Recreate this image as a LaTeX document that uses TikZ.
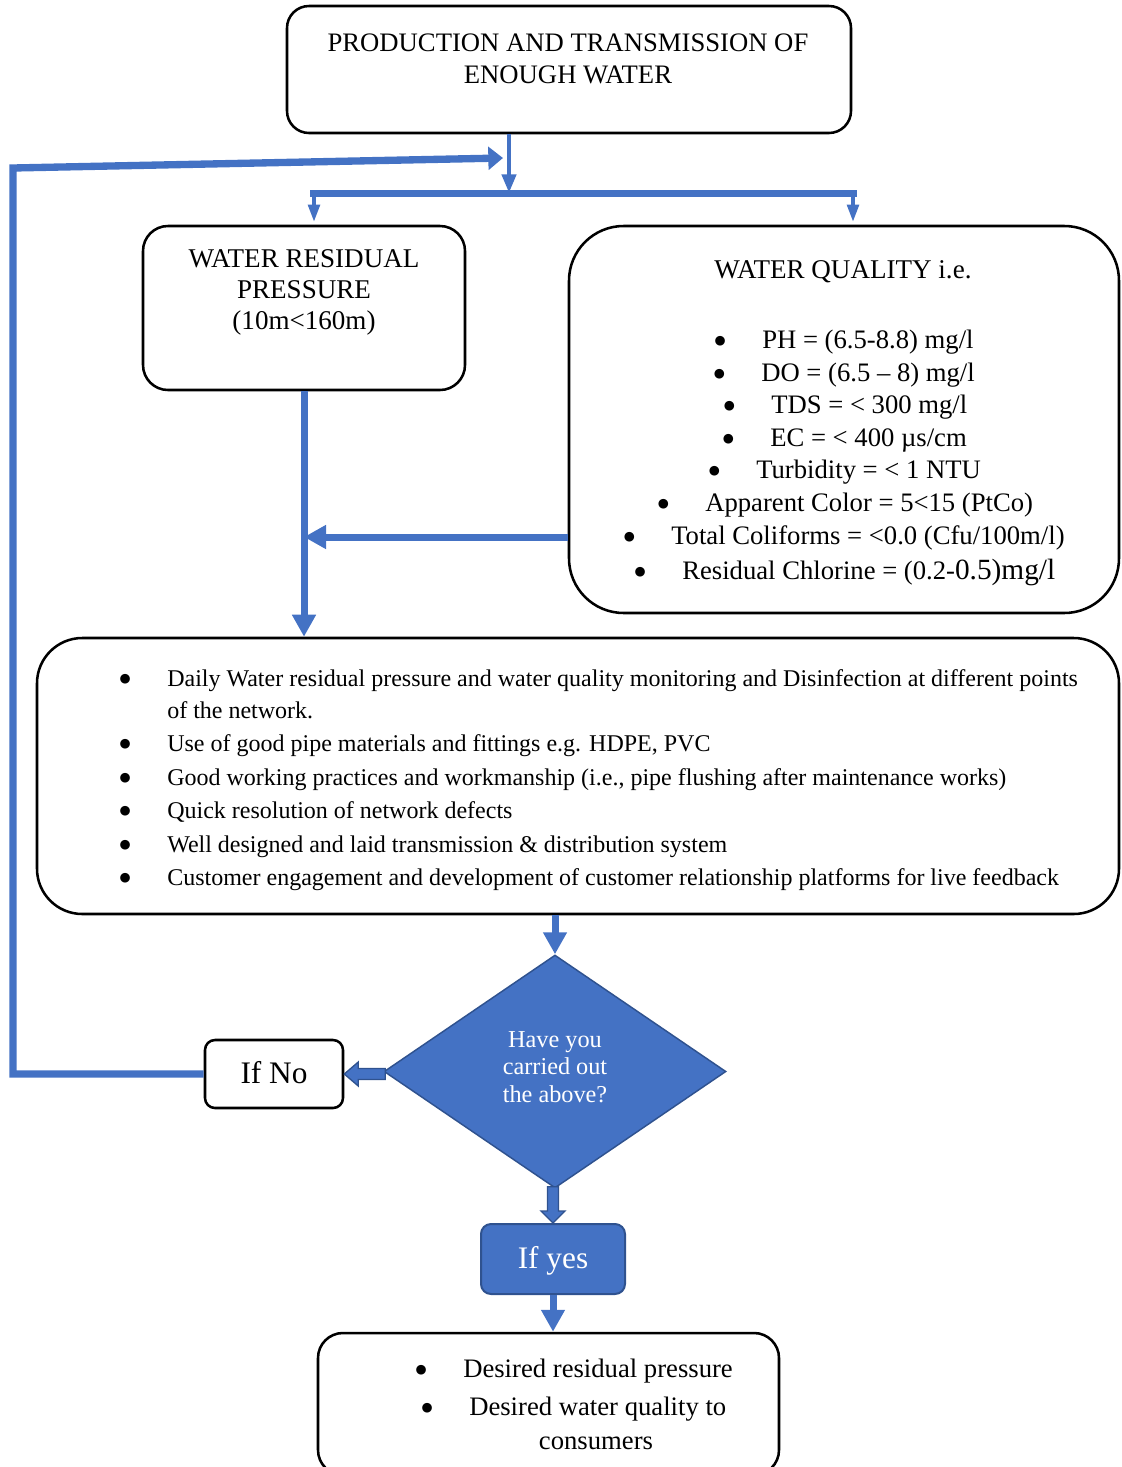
\documentclass[tikz,border=0pt]{standalone}
\usepackage{fontspec}
\setmainfont{Liberation Serif}
\newfontfamily\dvsans{DejaVu Sans}
\usetikzlibrary{arrows.meta,shapes.geometric,calc}
\definecolor{bl}{HTML}{4472C4}
\definecolor{dbl}{HTML}{2F528F}
\begin{document}
\begin{tikzpicture}[x=0.75pt,y=-0.75pt,
  box/.style={draw=black,line width=1.9pt,rounded corners=#1,inner sep=0pt},
  txt/.style={inner sep=0pt,anchor=base,font=\fontsize{18}{22}\selectfont},
  btxt/.style={inner sep=0pt,anchor=base west,font=\fontsize{18}{22}\selectfont},
  qtxt/.style={btxt,font=\fontsize{20}{24}\selectfont},
  conn/.style={draw=bl,line width=5.25pt},
  arr/.style={conn,-{Triangle[width=17pt,length=16.5pt]}},
  thinarr/.style={draw=bl,line width=3.2pt,-{Triangle[width=10.5pt,length=14pt]}},
  droparr/.style={draw=bl,line width=3pt,-{Triangle[width=8.5pt,length=13pt]}},
  blockarr/.style={fill=bl,draw=dbl,line width=1pt,line join=miter}
]
\useasboundingbox (0,0) rectangle (1121,1467);
\newcommand{\bul}{\llap{\makebox[0pt][c]{\raisebox{2.4pt}[0pt][0pt]{\fontsize{9.5}{10}\dvsans ●}}\hspace{31.5pt}}}

% boxes
\node[box=16.5pt,minimum width=423pt,minimum height=95.25pt] (top) at (569,69.5) {};
\node[box=18.75pt,minimum width=241.5pt,minimum height=123pt] (wrp) at (304,308) {};
\node[box=41pt,minimum width=412.5pt,minimum height=290.25pt] (wq) at (844,419.5) {};
\node[box=34pt,minimum width=811.5pt,minimum height=207pt] (big) at (578,776) {};
\node[diamond,fill=bl,draw=dbl,line width=1.1pt,inner sep=0pt,aspect=1.468,minimum width=256.5pt,minimum height=174.75pt] (dia) at (555,1071.5) {};
\node[box=7.5pt,minimum width=103.5pt,minimum height=51pt] (ifno) at (274,1074) {};
\node[box=7.5pt,draw=dbl,line width=1.5pt,fill=bl,minimum width=108pt,minimum height=52.5pt] (ifyes) at (553,1259) {};
\node[box=18.75pt,minimum width=345.75pt,minimum height=106.5pt] (bot) at (548.5,1404) {};

% texts: top box
\node[txt,font=\fontsize{20}{24}\selectfont] (t1) at (568,51) {PRODUCTION AND TRANSMISSION OF};
\node[txt,font=\fontsize{20}{24}\selectfont] (t2) at (568,83) {ENOUGH WATER};
% left box
\node[txt,font=\fontsize{20.3}{24}\selectfont] (w1) at (304,267) {WATER RESIDUAL};
\node[txt,font=\fontsize{20.3}{24}\selectfont] (w2) at (304,298) {PRESSURE};
\node[txt,font=\fontsize{20.3}{24}\selectfont] (w3) at (304,329) {(10m<160m)};
% quality box
\node[txt,font=\fontsize{20.3}{24}\selectfont] (q0) at (843,278) {WATER QUALITY i.e.};
\node[qtxt] (q1) at (762,348) {\bul PH = (6.5-8.8) mg/l};
\node[qtxt] (q2) at (761,381) {\bul DO = (6.5 – 8) mg/l};
\node[qtxt] (q3) at (771,413) {\bul TDS = < 300 mg/l};
\node[qtxt] (q4) at (770,446) {\bul EC = < 400 µs/cm};
\node[qtxt] (q5) at (756,478) {\bul Turbidity = < 1 NTU};
\node[qtxt] (q6) at (705,511) {\bul Apparent Color = 5<15 (PtCo)};
\node[qtxt] (q7) at (671,544) {\bul Total Coliforms = <0.0 (Cfu/100m/l)};
\node[qtxt] (q8) at (682,579) {\bul Residual Chlorine = (0.2-{\fontsize{22}{24}\selectfont 0.5)mg/l}};
% big box
\node[btxt] (b1) at (167,686) {\bul Daily Water residual pressure and water quality monitoring and Disinfection at different points};
\node[btxt] (b1b) at (167,718) {of the network.};
\node[btxt] (b2) at (167,751) {\bul Use of good pipe materials and fittings e.g. HDPE, PVC};
\node[btxt] (b3) at (167,785) {\bul Good working practices and workmanship (i.e., pipe flushing after maintenance works)};
\node[btxt] (b4) at (167,818) {\bul Quick resolution of network defects};
\node[btxt] (b5) at (167,852) {\bul Well designed and laid transmission \& distribution system};
\node[btxt] (b6) at (167,885) {\bul Customer engagement and development of customer relationship platforms for live feedback};
% diamond
\node[txt,text=white,font=\fontsize{18.2}{20}\selectfont] (d1) at (555,1047) {Have you};
\node[txt,text=white,font=\fontsize{18.2}{20}\selectfont] (d2) at (555,1074) {carried out};
\node[txt,text=white,font=\fontsize{18.2}{20}\selectfont] (d3) at (555,1102) {the above?};
% if no / yes
\node[txt,font=\fontsize{23.5}{26}\selectfont] (n1) at (274,1083) {If No};
\node[txt,text=white,font=\fontsize{23.5}{26}\selectfont] (y1) at (553,1268) {If yes};
% bottom
\node[btxt,font=\fontsize{20}{24}\selectfont] (e1) at (463,1377) {\bul Desired residual pressure};
\node[btxt,font=\fontsize{20}{24}\selectfont] (e2) at (469,1415) {\bul Desired water quality to};
\node[txt,font=\fontsize{20}{24}\selectfont] (e3) at (596,1449) {consumers};

% connectors
\coordinate (j) at (509,193);
\coordinate (bl1) at (310,193);
\coordinate (br1) at (857,193);
\coordinate (dl) at (314,193);
\coordinate (dr) at (853,193);
\draw[thinarr] (j |- top.south) -- (j);
\draw[conn] (bl1) -- (br1);
\draw[droparr] (dl) -- ([yshift=2pt]dl |- wrp.north);
\draw[droparr] (dr) -- ([yshift=2pt]dr |- wq.north);

\coordinate (fb1) at (13,1074);
\coordinate (fb2) at (13,168);
\coordinate (fb3) at (503,158);
\draw[conn,line width=5.5pt,line join=miter,-{Triangle[width=17pt,length=11pt]}] (ifno.west) -- (fb1) -- (fb2) -- (fb3);

\draw[arr] (wrp.south) -- (wrp.south |- big.north);
\coordinate (m) at (304,537);
\draw[arr] (m -| wq.west) -- (m);
\draw[arr] (dia.north |- big.south) -- (dia.north);
\draw[arr] (ifyes.south) -- (ifyes.south |- bot.north);

% block arrows
\coordinate (dw) at (ifno.east -| dia.west);
\coordinate (ds) at (dia.south -| ifyes.north);
\draw[blockarr] ($(dw)+(2,-5.5)$) -- ($(ifno.east)+(14,-5.5)$) -- ($(ifno.east)+(14,-12)$) -- (ifno.east)
  -- ($(ifno.east)+(14,12)$) -- ($(ifno.east)+(14,5.5)$) -- ($(dw)+(2,5.5)$) -- cycle;
\draw[blockarr] ($(ds)+(-5.5,-2)$) -- ($(ifyes.north)+(-5.5,-12)$) -- ($(ifyes.north)+(-12,-12)$) -- (ifyes.north)
  -- ($(ifyes.north)+(12,-12)$) -- ($(ifyes.north)+(5.5,-12)$) -- ($(ds)+(5.5,-2)$) -- cycle;
\end{tikzpicture}
\end{document}
